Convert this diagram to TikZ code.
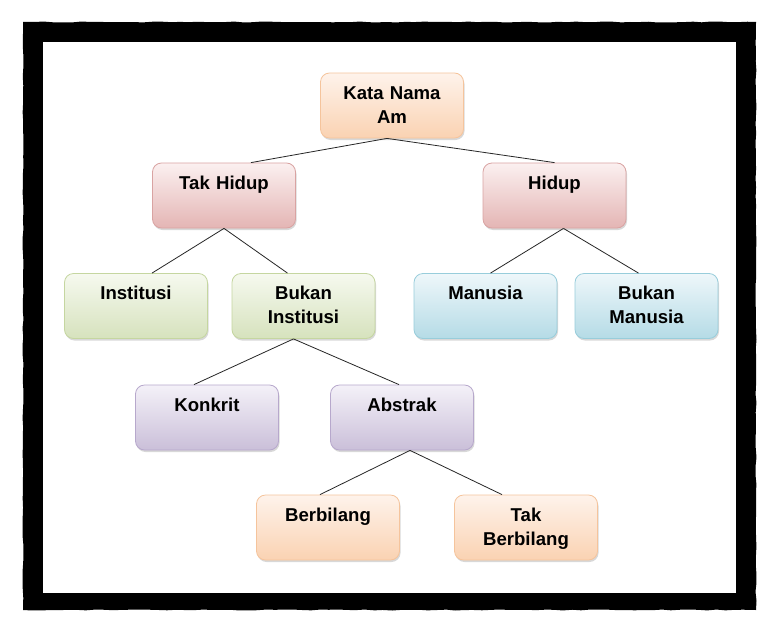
\documentclass[tikz,border=0pt]{standalone}
\usepackage{fontspec}
\setmainfont{Liberation Sans}
\usepackage{xcolor}
\usetikzlibrary{shadows,decorations.pathmorphing}

\definecolor{peachTop}{HTML}{FEF3EB}
\definecolor{peachBot}{HTML}{FAD2B2}
\definecolor{peachLine}{HTML}{F5C49C}
\definecolor{roseTop}{HTML}{FBF0F0}
\definecolor{roseBot}{HTML}{E4B5B4}
\definecolor{roseLine}{HTML}{D9A3A2}
\definecolor{leafTop}{HTML}{F6F9EF}
\definecolor{leafBot}{HTML}{D6E2BD}
\definecolor{leafLine}{HTML}{C5D6A0}
\definecolor{skyTop}{HTML}{EEF7FA}
\definecolor{skyBot}{HTML}{B5DBE6}
\definecolor{skyLine}{HTML}{98CDDB}
\definecolor{lilacTop}{HTML}{F4F1F8}
\definecolor{lilacBot}{HTML}{CABFD9}
\definecolor{lilacLine}{HTML}{B7A8CC}

\begin{document}
\begin{tikzpicture}[
  x=1pt,y=-1pt,
  box/.style={rounded corners=9pt,line width=0.8pt,minimum width=143pt,
              inner xsep=8pt,inner ysep=0pt,text width=127pt,align=center,
              text height=26pt,text depth=39pt,
              font=\fontsize{18.6}{24}\selectfont\bfseries,
              drop shadow={shadow xshift=1pt,shadow yshift=-2pt,opacity=0.3}},
  peach/.style={box,draw=peachLine,top color=peachTop,bottom color=peachBot},
  rose/.style={box,draw=roseLine,top color=roseTop,bottom color=roseBot},
  leaf/.style={box,draw=leafLine,top color=leafTop,bottom color=leafBot},
  sky/.style={box,draw=skyLine,top color=skyTop,bottom color=skyBot},
  lilac/.style={box,draw=lilacLine,top color=lilacTop,bottom color=lilacBot},
  link/.style={draw=black!85,line width=0.8pt},
]
  \useasboundingbox (0,0) rectangle (778,629);
  \fill[white] (0,0) rectangle (778,629);
  % frame
  \pgfmathsetseed{7}
  \fill[black,decorate,decoration={random steps,segment length=9pt,amplitude=0.5pt}]
    (23,22) rectangle (756,610);
  \fill[white] (43,42) rectangle (736,593);

  \node[peach] (kna) at (392,105.5) {Kata Nama\\Am};

  \node[rose]  (tkh) at (224,195.5)   {Tak Hidup};
  \node[rose]  (hdp) at (554.5,195.5) {Hidup};

  \node[leaf]  (ins) at (136,306)     {Institusi};
  \node[leaf]  (bki) at (303.5,306)   {Bukan\\Institusi};
  \node[sky]   (mns) at (485.5,306)   {Manusia};
  \node[sky]   (bkm) at (646.5,306)   {Bukan\\Manusia};

  \node[lilac] (knk) at (207,417.5)   {Konkrit};
  \node[lilac] (abs) at (402,417.5)   {Abstrak};

  \node[peach] (bbl) at (328,527.5)   {Berbilang};
  \node[peach] (tbb) at (526,527.5)   {Tak\\Berbilang};

  \draw[link] ([xshift=-5pt]kna.south) -- ([xshift=27pt]tkh.north);
  \draw[link] ([xshift=-5pt]kna.south) -- (hdp.north);
  \draw[link] (tkh.south) -- ([xshift=16pt]ins.north);
  \draw[link] (tkh.south) -- ([xshift=-16pt]bki.north);
  \draw[link] ([xshift=9pt]hdp.south) -- ([xshift=5pt]mns.north);
  \draw[link] ([xshift=9pt]hdp.south) -- ([xshift=-8pt]bkm.north);
  \draw[link] ([xshift=-10pt]bki.south) -- ([xshift=-13pt]knk.north);
  \draw[link] ([xshift=-10pt]bki.south) -- ([xshift=-3pt]abs.north);
  \draw[link] ([xshift=8pt]abs.south) -- ([xshift=-8pt]bbl.north);
  \draw[link] ([xshift=8pt]abs.south) -- ([xshift=-24pt]tbb.north);
\end{tikzpicture}
\end{document}
